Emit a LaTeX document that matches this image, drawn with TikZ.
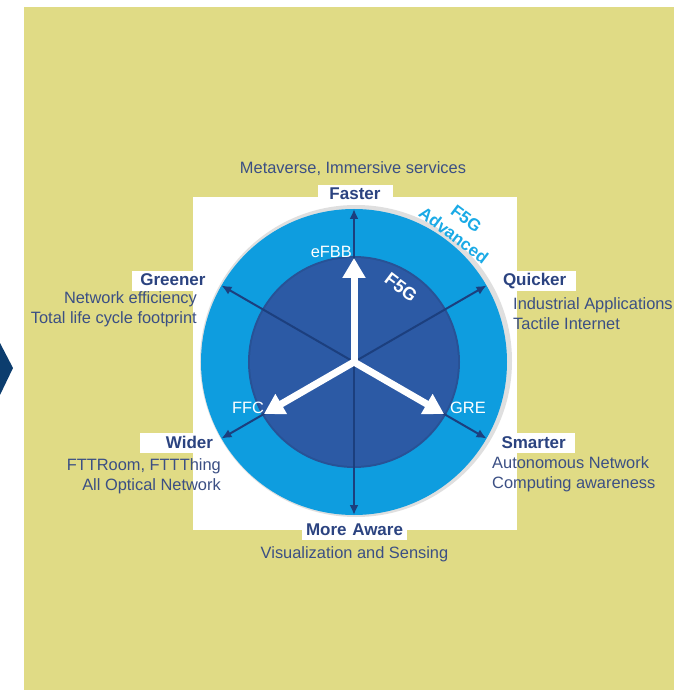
\documentclass[tikz,border=0pt]{standalone}
\usepackage{fontspec}
\setmainfont{Liberation Sans}
\usepackage{xcolor}
\usepackage{tikz}
\usetikzlibrary{positioning,calc,arrows.meta}

\definecolor{panel}{HTML}{E0DB85}
\definecolor{ringblue}{HTML}{0E9DDF}
\definecolor{coreblue}{HTML}{2C5AA5}
\definecolor{spoke}{HTML}{1C3F7E}
\definecolor{lblnavy}{HTML}{2B4380}
\definecolor{subnavy}{HTML}{3B4F84}
\definecolor{advcyan}{HTML}{1AAAE6}
\definecolor{chevron}{HTML}{0C3D6E}

\tikzset{
    dirlbl/.style={fill=white, text=lblnavy, font=\fontsize{17}{20}\selectfont\bfseries,
        text width=71pt, inner xsep=2pt, inner ysep=3pt, text height=12pt, text depth=2pt},
    subtxt/.style={text=subnavy, font=\fontsize{16.4}{20}\selectfont, inner sep=0pt},
    intxt/.style={text=white, font=\fontsize{16.4}{20}\selectfont, inner sep=0pt},
    spokearr/.style={draw=spoke, line width=2pt, -{Latex[length=10pt,width=9pt]}},
    genarr/.style={draw=white, line width=7pt, line cap=round, -{Triangle[length=20pt,width=22pt]}},
}

\begin{document}
\begin{tikzpicture}[x=1pt,y=1pt]
    % Canvas
    \useasboundingbox (-354,-328) rectangle (320,362);
    \fill[white] (-354,-328) rectangle (320,362);
    \fill[panel] (-330,-328) rectangle (320,355);
    \fill[chevron] (-354,19) -- (-341,-6) -- (-354,-33) -- cycle;
    \fill[white] (-161,-168) rectangle (163,165);

    % Rings
    \coordinate (hub) at (0,0);
    \fill[gray!25] (2,1) circle (156);
    \fill[ringblue] (hub) circle (153);
    \fill[coreblue!85!black!60!coreblue] (hub) circle (106);
    \fill[coreblue] (hub) circle (104);

    % Spokes
    \foreach \n/\a in {faster/90, quicker/30, smarter/-30, aware/-90, wider/210, greener/150} {
        \coordinate (rim-\n) at (\a:153);
        \draw[spokearr] (hub) -- (rim-\n);
    }

    % Generations
    \foreach \n/\a in {efbb/90, ffc/210, gre/-30} {
        \coordinate (tip-\n) at (\a:104);
        \draw[genarr] (hub) -- (tip-\n);
    }
    \node[intxt, anchor=base east] (efbb) at (-2,104) {eFBB};
    \node[intxt, anchor=base west] (ffc) at (-122,-51) {FFC};
    \node[intxt, anchor=base west] (gre) at (96,-51) {GRE};
    \node[intxt, font=\fontsize{18}{20}\selectfont\bfseries, rotate=-37] (f5g) at (47,74.5) {F5G};
    \node[text=advcyan, font=\fontsize{17}{21}\selectfont\bfseries, align=center, rotate=-37, inner sep=0pt] (f5gadv) at (106,135) {F5G\\Advanced};

    % Directions
    \node[dirlbl, align=center, anchor=base] (faster) at (1,162) {Faster};
    \node[dirlbl, align=right, anchor=base] (greener) at (-184,76) {Greener};
    \node[dirlbl, align=left, anchor=base] (quicker) at (184.5,76) {Quicker};
    \node[dirlbl, align=right, anchor=base] (wider) at (-176.5,-86) {Wider};
    \node[dirlbl, align=left, anchor=base] (smarter) at (183,-86) {Smarter};
    \node[dirlbl, align=center, anchor=base, text width=101pt] (aware) at (0.5,-173) {More Aware};

    % Use cases
    \node[subtxt, anchor=base] (metaverse) at (-1,188) {Metaverse, Immersive services};
    \node[subtxt, anchor=base east] (neteff) at (-157,58) {Network efficiency};
    \node[subtxt, anchor=base east] (lifecycle) at (-157,38) {Total life cycle footprint};
    \node[subtxt, anchor=base west] (industrial) at (159,52) {Industrial Applications};
    \node[subtxt, anchor=base west] (tactile) at (159,32) {Tactile Internet};
    \node[subtxt, anchor=base east] (fttr) at (-133,-108) {FTTRoom, FTTThing};
    \node[subtxt, anchor=base east] (optical) at (-133,-128) {All Optical Network};
    \node[subtxt, anchor=base west] (autonomous) at (138,-106) {Autonomous Network};
    \node[subtxt, anchor=base west] (computing) at (138,-126) {Computing awareness};
    \node[subtxt, anchor=base] (visual) at (0.5,-196) {Visualization and Sensing};
\end{tikzpicture}
\end{document}
